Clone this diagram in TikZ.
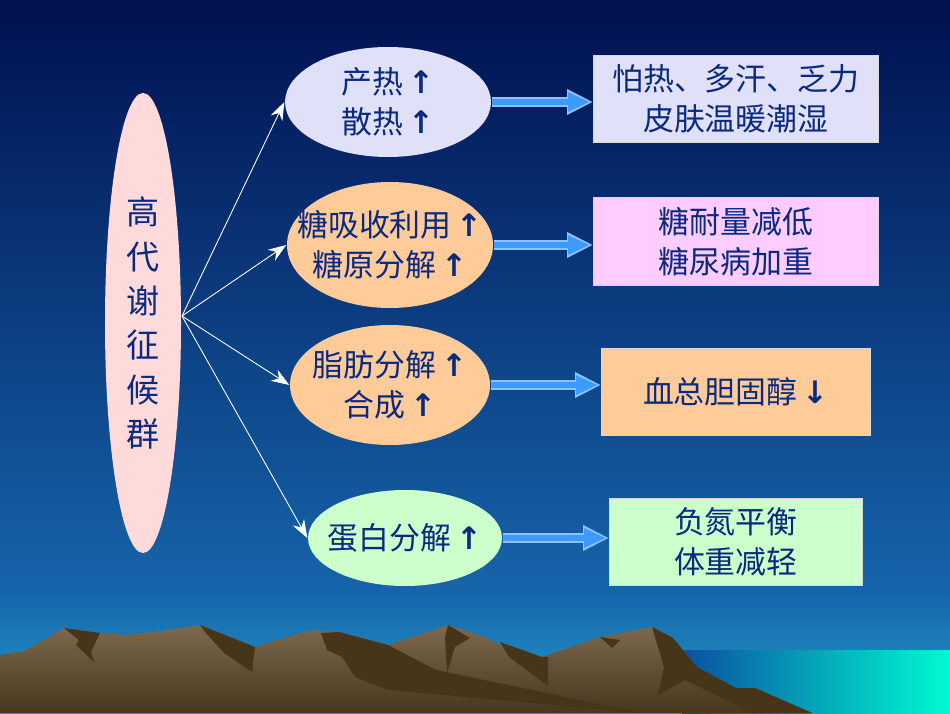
\documentclass[tikz,border=0pt]{standalone}
\usepackage{fontspec}
\setmainfont{Noto Sans CJK SC}
\newfontfamily\arr{DejaVu Sans}
\usetikzlibrary{shapes.geometric,arrows.meta}
\definecolor{navy}{HTML}{0A2A80}
\definecolor{lav}{HTML}{E0E0F8}
\definecolor{peach}{HTML}{FFCC99}
\definecolor{mint}{HTML}{CCFFCC}
\definecolor{pinkb}{HTML}{FFCCFF}
\definecolor{pinke}{HTML}{FFDADA}
\definecolor{arrowblue}{HTML}{3D9BFF}
\definecolor{rock}{HTML}{47351A}
\newcommand{\up}{\,{\arr\textbf{↑}}}
\newcommand{\dn}{\,{\arr\textbf{↓}}}
\begin{document}
\begin{tikzpicture}[x=0.1mm,y=-0.1mm,
  txt/.style={text=navy,font=\fontsize{8.8}{11.4}\selectfont,align=center,inner sep=0pt},
  bigtxt/.style={txt,font=\fontsize{9.4}{12.6}\selectfont},
  ell/.style={ellipse,draw=none,inner sep=0pt,label={[txt]center:#1}},
  box/.style={rectangle,draw=white!70!gray,line width=0.2pt,txt,anchor=north west},
  thin/.style={white,line width=0.25pt,-{Stealth[length=1.8mm,width=1.3mm]}},
  fat/.style={arrowblue!60!white,line width=2.6pt,-{Triangle[length=2.6mm,width=2.4mm]}},
  fatin/.style={arrowblue,line width=1.6pt,-{Triangle[length=2.2mm,width=1.8mm]}}]
\useasboundingbox (0,0) rectangle (950,713);
\shade[top color={rgb,255:red,0;green,16;blue,80},bottom color={rgb,255:red,22;green,100;blue,170}] (0,0) rectangle (950,590);
\shade[top color={rgb,255:red,22;green,100;blue,170},bottom color={rgb,255:red,35;green,155;blue,200}] (0,589) rectangle (950,713);
\shade[left color={rgb,255:red,10;green,80;blue,160},right color={rgb,255:red,0;green,250;blue,210}] (682,650) rectangle (950,713);
% mountains
\shade[top color={rgb,255:red,125;green,105;blue,78},bottom color={rgb,255:red,70;green,55;blue,30}]
 (0,655)--(24,651)--(64,628)--(100,633)--(124,635)--(142,633)--(161,631)--(200,625)--(255,647)--(303,632)--(312,630)--(339,632)--(388,645)--(418,635)--(448,625)--(485,637)--(509,650)--(542,657)--(600,637)--(652,627)--(673,638)--(697,667)--(736,688)--(755,688)--(812,713)--(0,713)--cycle;
\fill[rock] (200,625)--(255,647)--(252,672)--(224,653)--(206,633)--cycle;
\fill[rock] (321,633)--(339,632)--(388,645)--(436,670)--(642,713)--(388,690)--(355,677)--(342,657)--(327,650)--cycle;
\fill[rock] (652,627)--(673,638)--(697,667)--(736,688)--(755,688)--(812,713)--(752,713)--(685,680)--(658,695)--(664,667)--cycle;
\fill[rock] (64,628)--(100,633)--(91,652)--(94,662)--(76,645)--(79,640)--cycle;
\fill[rock] (448,625)--(470,638)--(455,647)--(447,673)--(445,637)--cycle;
\fill[rock] (500,642)--(542,657)--(548,657)--(548,686)--(509,657)--cycle;
\fill[rock] (600,637)--(620,640)--(612,648)--cycle;
% nodes
\node[ellipse,draw=none,inner sep=0pt,label={[bigtxt]center:高\\代\\谢\\征\\候\\群},fill=pinke,minimum width=7.6mm,minimum height=46mm] (main) at (143,323) {};
\node[ell={产热\up\\散热\up},fill=lav,minimum width=20.6mm,minimum height=11mm] (e1) at (388,102) {};
\node[ell={糖吸收利用\up\\糖原分解\up},fill=peach,minimum width=20.6mm,minimum height=12.6mm] (e2) at (390,245) {};
\node[ell={脂肪分解\up\\合成\up},fill=peach,minimum width=20mm,minimum height=12mm] (e3) at (390,385) {};
\node[ell={蛋白分解\up},fill=mint,minimum width=19.4mm,minimum height=9.6mm] (e4) at (405,538) {};
\node[box,fill=lav,minimum width=28.5mm,minimum height=8.7mm] (r1) at (593,55) {怕热、多汗、乏力\\皮肤温暖潮湿};
\node[box,fill=pinkb,minimum width=28.5mm,minimum height=8.8mm] (r2) at (593,197) {糖耐量减低\\糖尿病加重};
\node[box,fill=peach,minimum width=26.9mm,minimum height=8.7mm] (r3) at (601,348) {血总胆固醇\dn};
\node[box,fill=mint,minimum width=25.3mm,minimum height=8.7mm] (r4) at (609,498) {负氮平衡\\体重减轻};
\coordinate (hub) at (182,316);
\draw[thin] (hub) -- (e1.west);
\draw[thin] (hub) -- (e2.west);
\draw[thin] (hub) -- (e3.west);
\draw[thin] (hub) -- (e4.west);
\foreach \e/\r in {e1/r1,e2/r2,e3/r3,e4/r4}{
  \draw[fat] (\e.east) -- (\e.east -| \r.west);
  \draw[fatin,shorten >=0.3mm] (\e.east) -- (\e.east -| \r.west);
}
\end{tikzpicture}
\end{document}
